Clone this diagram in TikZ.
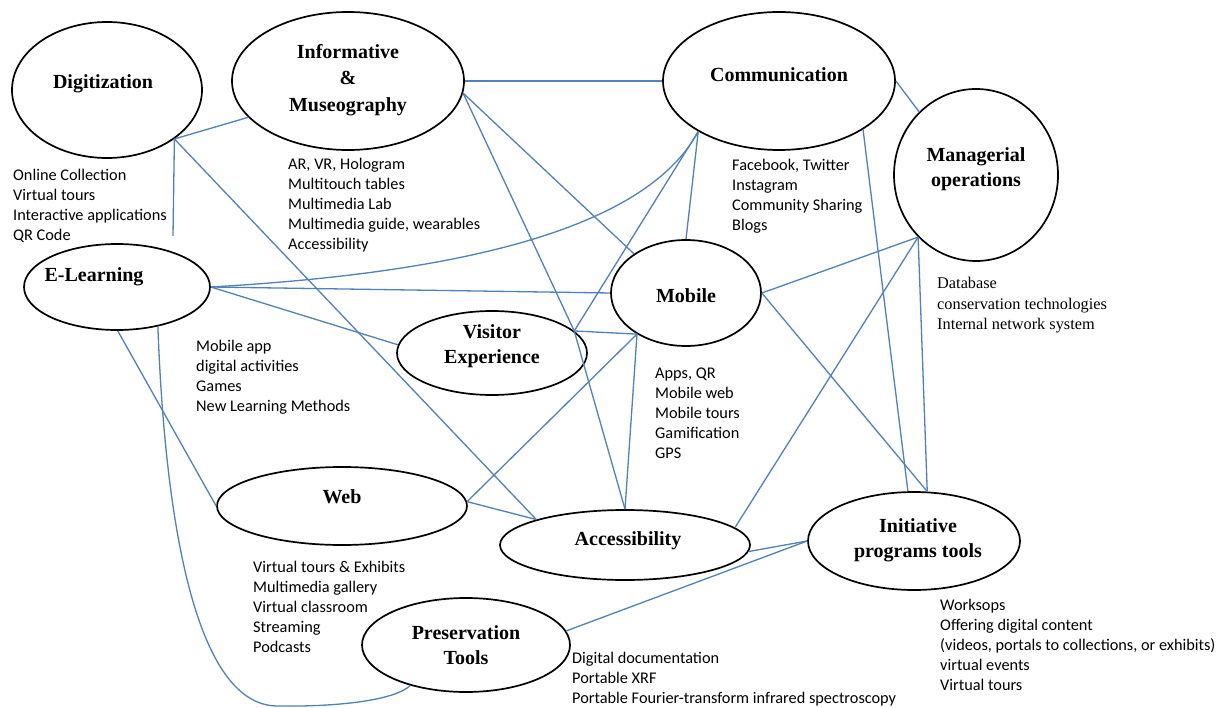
\documentclass[tikz,border=0pt]{standalone}
\usepackage{fontspec}
\setmainfont{Liberation Serif}
\newfontfamily\listfont{Carlito}
\usetikzlibrary{shapes.geometric}
\definecolor{linkblue}{RGB}{79,129,189}

\tikzset{
  bubble/.style={ellipse, draw=black, line width=1.7pt, inner sep=0pt, fill=none},
  title/.style={font=\bfseries\fontsize{20}{25}\selectfont, align=center, inner sep=0pt},
  % multi-line lists: the base anchor sits on the last line's baseline
  items/.style={font=\listfont\fontsize{16.3}{20}\selectfont, align=left, inner sep=0pt, anchor=base west},
  seritems/.style={font=\fontsize{16.3}{20.5}\selectfont, align=left, inner sep=0pt, anchor=base west},
  link/.style={draw=linkblue, line width=1.3pt}
}

\begin{document}
\begin{tikzpicture}[x=1pt, y=-1pt]
\useasboundingbox[fill=white] (0,0) rectangle (1228,708);

% ---- topic bubbles ----
\node[bubble, minimum width=190pt, minimum height=136pt] (dig)  at (107,90)  {};
\node[bubble, minimum width=232pt, minimum height=138pt] (inf)  at (348,81)  {};
\node[bubble, minimum width=232pt, minimum height=138pt] (comm) at (779,81)  {};
\node[bubble, minimum width=164pt, minimum height=172pt] (man)  at (976,175) {};
\node[bubble, minimum width=186pt, minimum height=86pt]  (el)   at (117,287) {};
\node[bubble, minimum width=190pt, minimum height=84pt]  (vis)  at (492,353) {};
\node[bubble, minimum width=150pt, minimum height=106pt] (mob)  at (686,293) {};
\node[bubble, minimum width=250pt, minimum height=78pt]  (web)  at (342,506) {};
\node[bubble, minimum width=250pt, minimum height=70pt]  (acc)  at (625,545) {};
\node[bubble, minimum width=212pt, minimum height=98pt]  (init) at (914,541) {};
\node[bubble, minimum width=208pt, minimum height=94pt]  (pres) at (466,645) {};

% ---- bubble titles ----
\node[title] (digT)  at (103,84)  {Digitization};
\node[title, font=\bfseries\fontsize{20}{26.5}\selectfont] (infT) at (348,80) {Informative\\\&\\Museography};
\node[title] (commT) at (779,75)  {Communication};
\node[title] (manT)  at (976,169) {Managerial\\operations};
\node[title] (elT)   at (94,277)  {E-Learning};
\node[title] (visT)  at (492,346) {Visitor\\Experience};
\node[title] (mobT)  at (686,296) {Mobile};
\node[title] (webT)  at (342,497) {Web};
\node[title] (accT)  at (628,541) {Accessibility};
\node[title] (initT) at (918,540) {Initiative\\programs tools};
\node[title] (presT) at (466,645) {Preservation\\Tools};

% ---- item lists ----
\node[items] (digL) at (13,241) {Online Collection\\Virtual tours\\Interactive applications\\QR Code};
\node[items] (infL) at (288,250) {AR, VR, Hologram\\Multitouch tables\\Multimedia Lab\\Multimedia guide, wearables\\Accessibility};
\node[items] (commL) at (732,231) {Facebook, Twitter\\Instagram\\Community Sharing\\Blogs};
\node[seritems] (manL) at (937,330) {Database\\conservation technologies\\Internal network system};
\node[items] (elL) at (196,411) {Mobile app\\digital activities\\Games\\New Learning Methods};
\node[items] (mobL) at (655,458) {Apps, QR\\Mobile web\\Mobile tours\\Gamification\\GPS};
\node[items] (webL) at (253,652) {Virtual tours \& Exhibits\\Multimedia gallery\\Virtual classroom\\Streaming\\Podcasts};
\node[items] (presL) at (572,703) {Digital documentation\\Portable XRF\\Portable Fourier-transform infrared spectroscopy};
\node[items] (initL) at (940,690) {Worksops\\Offering digital content\\(videos, portals to collections, or exhibits)\\virtual events\\Virtual tours};

% ---- connectors ----
\coordinate (digStub) at (173,236);
\draw[link] (dig.-36.6) -- (inf.-160);
\draw[link] (dig.-36.6) -- (digStub);
\draw[link] (dig.-36.6) -- (acc.164);
\draw[link] (inf.0) -- (comm.180);
\draw[link] (inf.-6) -- (mob.143);
\draw[link] (inf.-6) -- (vis.15.6);
\draw[link] (comm.0) -- (man.132.6);
\draw[link] (comm.-30.6) -- (init.97);
\draw[link] (comm.212.9) -- (vis.15.6);
\draw[link] (comm.212.9) -- (mob.90);
\draw[link] (el.0) .. controls (420,275) and (640,240) .. (comm.212.9);
\draw[link] (el.0) -- (mob.180);
\draw[link] (el.0) -- (vis.175);
\draw[link] (el.-89) -- (web.180);
\draw[link] (el.-44) .. controls (165,520) and (195,705) .. (277,706)
                    .. controls (340,707) and (395,700) .. (pres.216.7);
\draw[link] (vis.15.6) -- (mob.220);
\draw[link] (vis.15.6) -- (acc.90);
\draw[link] (web.2) -- (mob.220);
\draw[link] (web.2) -- (acc.164);
\draw[link] (mob.220) -- (acc.90);
\draw[link] (mob.0) -- (man.227);
\draw[link] (mob.0) -- (init.75);
\draw[link] (man.227) -- (init.75);
\draw[link] (man.227) -- (acc.9.5);
\draw[link] (acc.-3) -- (init.180);
\draw[link] (pres.8) -- (init.180);
\end{tikzpicture}
\end{document}
